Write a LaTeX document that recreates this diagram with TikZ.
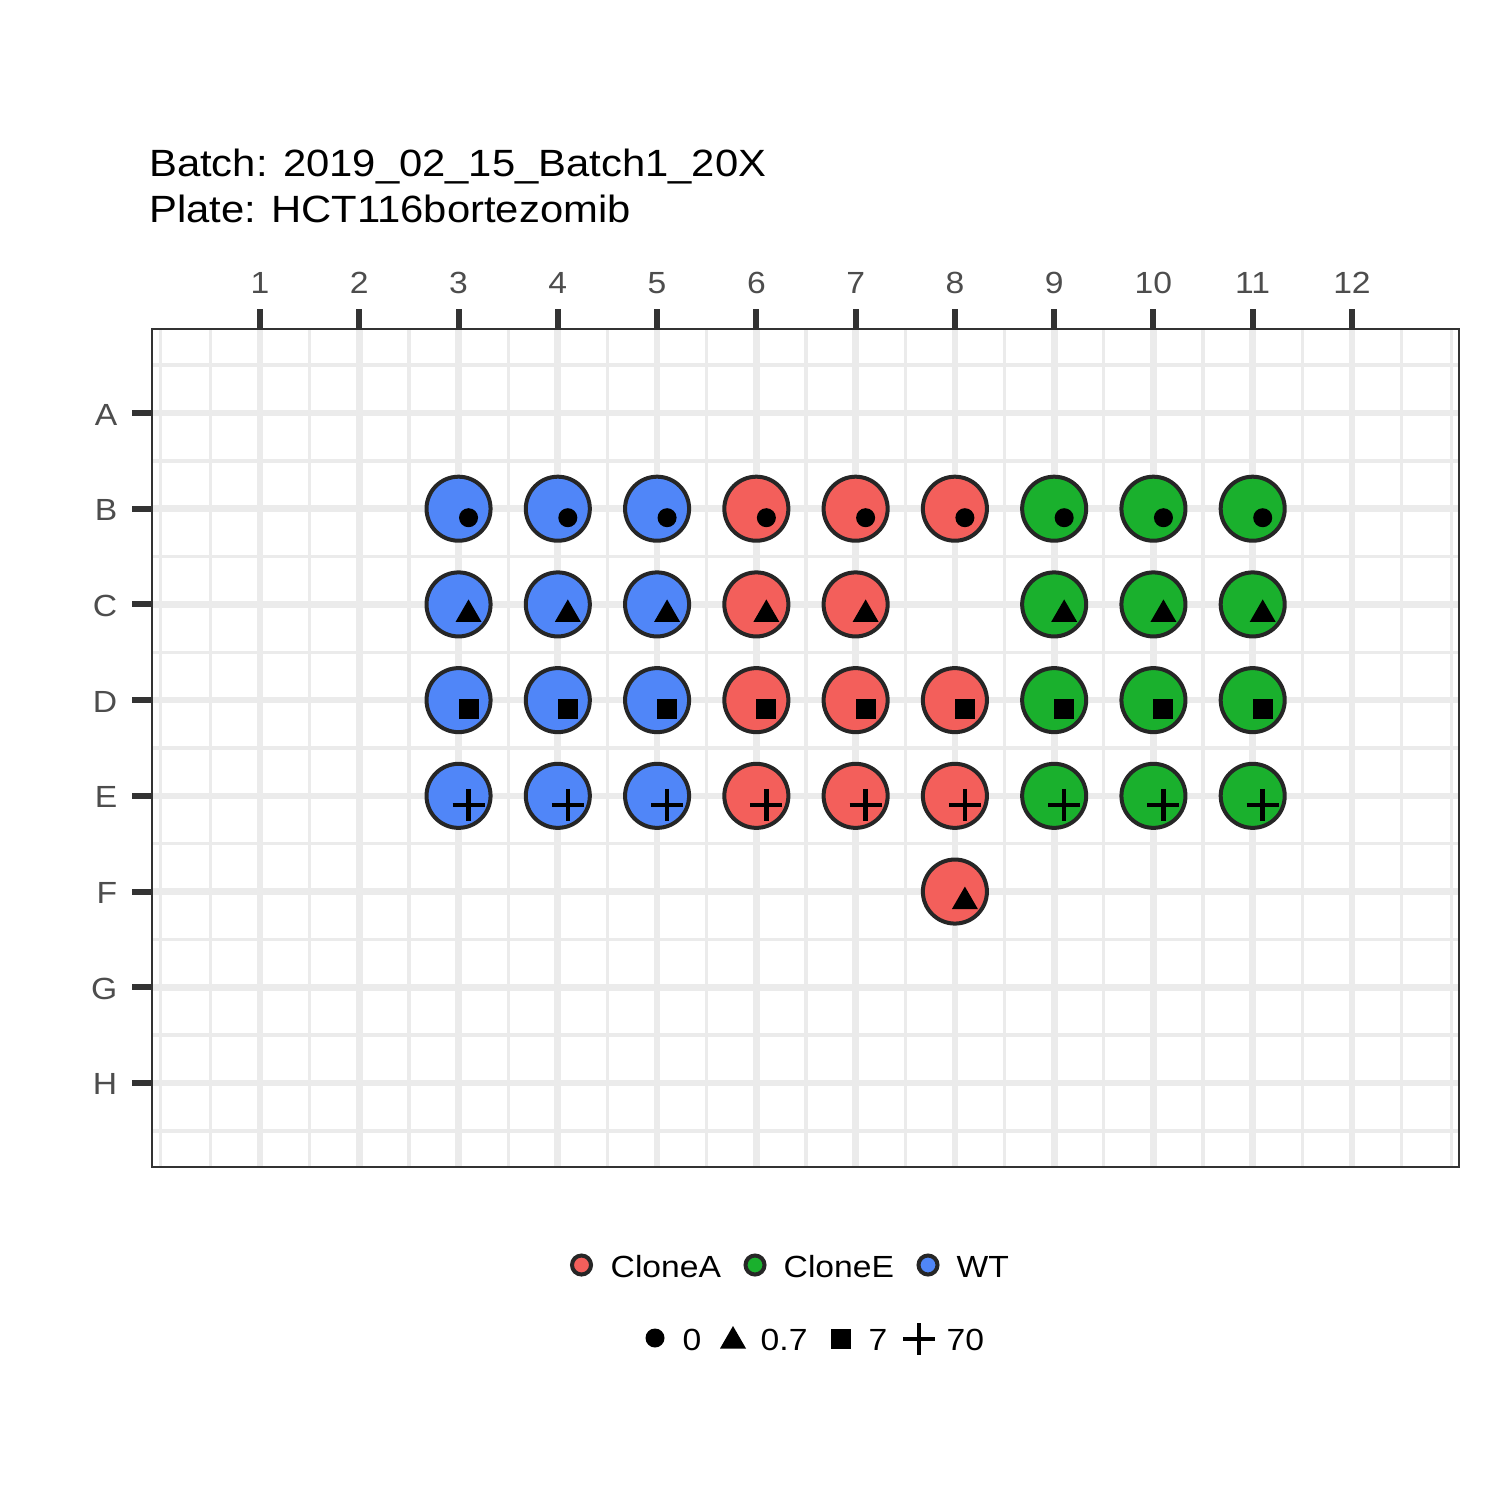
\documentclass[tikz,border=0pt]{standalone}
\usepackage{fontspec}
\setmainfont[FakeStretch=1.1]{Liberation Sans}
\usetikzlibrary{positioning}
\definecolor{cloneared}{HTML}{F35F5B}
\definecolor{cloneegreen}{HTML}{1AB02D}
\definecolor{wtblue}{HTML}{5086F8}
\definecolor{wellrim}{HTML}{262626}
\definecolor{gridgrey}{HTML}{EBEBEB}
\definecolor{framegrey}{HTML}{333333}
\definecolor{labelgrey}{HTML}{4D4D4D}

\begin{document}
\begin{tikzpicture}[x=0.01cm, y=-0.01cm,
  well/.style={circle, draw=wellrim, line width=1.14pt, fill=#1, minimum size=0.64cm, inner sep=0pt},
  keywell/.style={circle, draw=wellrim, line width=1.14pt, fill=#1, minimum size=0.19cm, inner sep=0pt},
  major/.style={gridgrey, line width=1.9pt},
  minor/.style={gridgrey, line width=0.95pt},
  tickmark/.style={framegrey, line width=1.7pt},
  ticklabel/.style={font=\fontsize{8.7}{10}\selectfont, text=labelgrey, inner sep=0pt},
  keytext/.style={font=\fontsize{8.7}{10}\selectfont, inner sep=0pt, anchor=base west},
  titletext/.style={font=\fontsize{10.8}{12}\selectfont, inner sep=0pt, anchor=base west},
  pics/dosezero/.style={code={\fill (0,0) circle[radius=0.095cm];}},
  pics/doselow/.style={code={\fill (0,-14) -- (-13,8.5) -- (13,8.5) -- cycle;}},
  pics/dosemid/.style={code={\fill (-10,-10) rectangle (10,10);}},
  pics/dosehigh/.style={code={\draw[line width=1.28pt] (-16,0) -- (16,0) (0,-16) -- (0,16);}}
]
  \fill[white] (0,0) rectangle (1500,1500);
  \useasboundingbox (0,0) rectangle (1500,1500);

  % grid of the plate
  \begin{scope}
    \clip (152,329) rectangle (1459,1167);
    \foreach \c in {0,0.5,1.5,2.5,3.5,4.5,5.5,6.5,7.5,8.5,9.5,10.5,11.5,12.5,13} {
      \draw[minor] ({160.73+99.27*\c},329) -- ({160.73+99.27*\c},1167);
    }
    \foreach \r in {0.5,1.5,2.5,3.5,4.5,5.5,6.5,7.5,8.5} {
      \draw[minor] (152,{317.29+95.71*\r}) -- (1459,{317.29+95.71*\r});
    }
    \foreach \c in {1,...,12} {
      \draw[major] ({160.73+99.27*\c},329) -- ({160.73+99.27*\c},1167);
    }
    \foreach \r in {1,...,8} {
      \draw[major] (152,{317.29+95.71*\r}) -- (1459,{317.29+95.71*\r});
    }
  \end{scope}
  \draw[framegrey, line width=0.7pt] (152,329) rectangle (1459,1167);

  % axes
  \foreach \c in {1,...,12} {
    \draw[tickmark] ({160.73+99.27*\c},309) -- ({160.73+99.27*\c},329);
    \node[ticklabel, anchor=base] (col\c) at ({160.73+99.27*\c},293) {\c};
  }
  \foreach \r/\ri in {A/1,B/2,C/3,D/4,E/5,F/6,G/7,H/8} {
    \draw[tickmark] (132,{317.29+95.71*\ri}) -- (152,{317.29+95.71*\ri});
    \node[ticklabel, anchor=base east] (row\r) at (118,{329.29+95.71*\ri}) {\r};
  }

  % wells
  \foreach \r/\ri/\m in {B/2/dosezero,C/3/doselow,D/4/dosemid,E/5/dosehigh} {
    \foreach \c in {3,4,5} {
      \node[well=wtblue] (\r\c) at ({160.73+99.27*\c},{317.29+95.71*\ri}) {};
      \pic at ([shift={(10,9)}]\r\c.center) {\m};
    }
    \foreach \c in {9,10,11} {
      \node[well=cloneegreen] (\r\c) at ({160.73+99.27*\c},{317.29+95.71*\ri}) {};
      \pic at ([shift={(10,9)}]\r\c.center) {\m};
    }
  }
  \foreach \r/\ri/\m/\cols in {B/2/dosezero/{6,7,8},C/3/doselow/{6,7},D/4/dosemid/{6,7,8},E/5/dosehigh/{6,7,8},F/6/doselow/{8}} {
    \foreach \c in \cols {
      \node[well=cloneared] (\r\c) at ({160.73+99.27*\c},{317.29+95.71*\ri}) {};
      \pic at ([shift={(10,9)}]\r\c.center) {\m};
    }
  }

  % titles
  \node[titletext] (batch) at (148.5,177) {Batch: 2019\_02\_15\_Batch1\_20X};
  \node[titletext] (plate) at (148.5,222) {Plate: HCT116bortezomib};

  % legend
  \node[keywell=cloneared] (keyA) at (581.5,1265) {};
  \node[keywell=cloneegreen] (keyE) at (755,1265) {};
  \node[keywell=wtblue] (keyWT) at (928,1265) {};
  \node[keytext] (labA) at (610,1277) {CloneA};
  \node[keytext] (labE) at (783,1277) {CloneE};
  \node[keytext] (labWT) at (956,1277) {WT};

  \pic at (655,1338) {dosezero};
  \pic at (733,1340) {doselow};
  \pic at (841,1338.5) {dosemid};
  \pic at (919,1339) {dosehigh};
  \node[keytext] (lab0) at (682,1350.5) {0};
  \node[keytext] (lab07) at (760,1350.5) {0.7};
  \node[keytext] (lab7) at (868,1350.5) {7};
  \node[keytext] (lab70) at (946,1350.5) {70};
\end{tikzpicture}
\end{document}
